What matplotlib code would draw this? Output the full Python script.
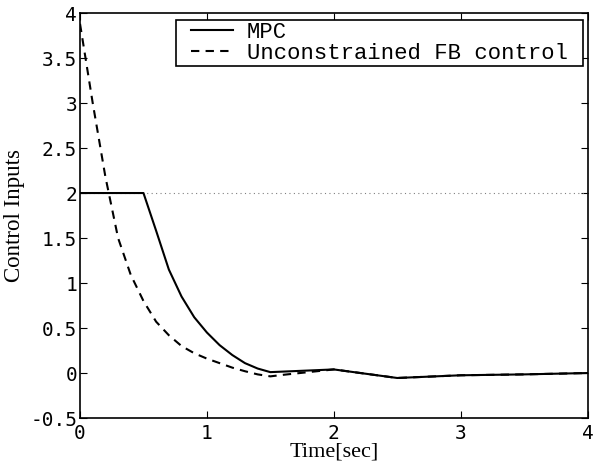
import numpy as np
import matplotlib
matplotlib.use('Agg')
from matplotlib import pyplot as plt
from matplotlib.patches import Rectangle

# MPC input (solid)
t_mpc = [0, 0.5, 0.6, 0.7, 0.8, 0.9, 1.0, 1.1, 1.2, 1.3, 1.4, 1.5, 2.0, 2.5, 3.0, 3.5, 4.0]
u_mpc = [2.0, 2.0, 1.58, 1.15, 0.85, 0.62, 0.45, 0.31, 0.2, 0.11, 0.05, 0.01, 0.04, -0.055, -0.025, -0.015, 0.0]

# unconstrained feedback input (dashed)
t_fb = [0, 0.1, 0.2, 0.3, 0.4, 0.5, 0.6, 0.7, 0.8, 0.9, 1.0, 1.1, 1.2, 1.3, 1.4, 1.5,
        1.6, 1.7, 1.8, 1.9, 2.0, 2.5, 3.0, 3.5, 4.0]
u_fb = [3.88, 3.0, 2.18, 1.5, 1.09, 0.8, 0.57, 0.42, 0.3, 0.22, 0.16, 0.11, 0.06, 0.02, -0.015, -0.037,
        -0.02, -0.005, 0.01, 0.025, 0.04, -0.055, -0.025, -0.015, 0.0]

u_max = 2.0

fig = plt.figure(figsize=(5.95, 4.65), dpi=100)
ax = fig.add_axes([0.1345, 0.101, 0.853, 0.871])

ax.plot([0, 4], [u_max, u_max], color='grey', linestyle=(0, (1, 3)), linewidth=0.8)
ax.plot(t_mpc, u_mpc, 'k-', linewidth=1.5, label='MPC')
ax.plot(t_fb, u_fb, 'k--', linewidth=1.5, dashes=(4, 3), label='Unconstrained FB control')

ax.set_xlim(0, 4)
ax.set_ylim(-0.5, 4)
ax.set_xticks([0, 1, 2, 3, 4])
ax.set_yticks(np.arange(-0.5, 4.01, 0.5))
ax.set_xticklabels(['0', '1', '2', '3', '4'])
ax.set_yticklabels(['-0.5', '0', '0.5', '1', '1.5', '2', '2.5', '3', '3.5', '4'])
ax.tick_params(direction='in', top=True, right=True, length=5, width=0.8, labelsize=14, pad=2)
ax.tick_params(axis='x', pad=4)
for lab in ax.get_xticklabels() + ax.get_yticklabels():
    lab.set_family(['DejaVu Sans Mono'])
for s in ax.spines.values():
    s.set_linewidth(1.2)

ax.set_xlabel('Time[sec]', family=['Liberation Serif'], fontsize=16, labelpad=0)
ax.set_ylabel('Control Inputs', family=['Liberation Serif'], fontsize=16.5, labelpad=4)

# legend without frame, box drawn by hand (wide side padding, tight top/bottom)
leg = ax.legend(loc='upper right', bbox_to_anchor=(0.963, 0.98),
                prop={'family': ['Liberation Mono'], 'size': 16},
                frameon=False, handlelength=1.9, handletextpad=0.6,
                borderpad=0.05, labelspacing=0.0, borderaxespad=0.0)
fig.canvas.draw()
bb = leg.get_window_extent()
px = 14
rect = Rectangle((bb.x0 - px, bb.y0 - 1), bb.width + 2 * px, bb.height + 2,
                 transform=None, facecolor='white', edgecolor='black',
                 linewidth=1.2, zorder=4)
fig.patches.append(rect)
leg.set_zorder(5)
fig.add_artist(leg)

plt.savefig('out.png', dpi=100)
